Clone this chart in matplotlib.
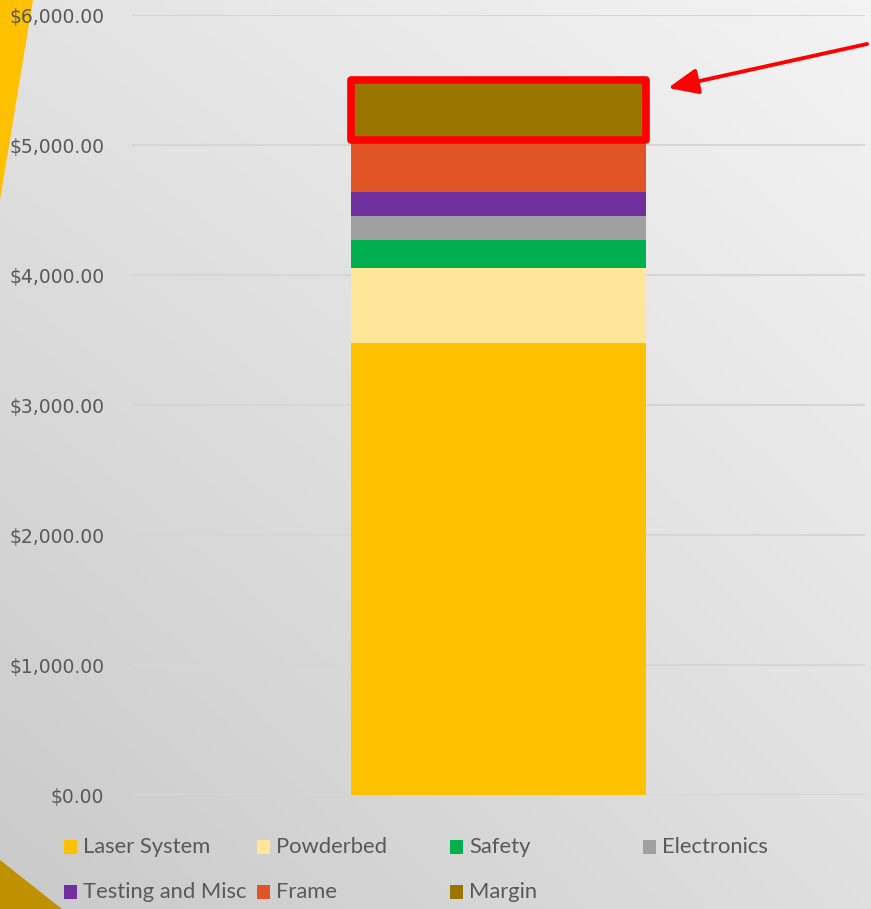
import numpy as np
import matplotlib
matplotlib.use("Agg")
import matplotlib.pyplot as plt
from matplotlib.patches import Polygon, Rectangle, FancyArrowPatch
from matplotlib.ticker import FuncFormatter

# Cost breakdown (USD), stacked bottom to top
categories = ["Laser System", "Powderbed", "Safety", "Electronics",
              "Testing and Misc", "Frame", "Margin"]
costs = [3478, 574, 216, 184, 185, 400, 461]
colors = ["#FFC000", "#FFE699", "#00B050", "#A0A0A0",
          "#7030A0", "#E05426", "#9A7600"]
y_ticks = [0, 1000, 2000, 3000, 4000, 5000, 6000]

W, H = 871, 909
fig = plt.figure(figsize=(W / 100, H / 100), dpi=100)

# Soft diagonal gray background
bg = fig.add_axes([0, 0, 1, 1], zorder=-10)
u = np.linspace(0, 1, 300)
X, Y = np.meshgrid(u, u)
tl, tr, bl, br = 0.890, 0.955, 0.790, 0.875
G = tl * (1 - X) * (1 - Y) + tr * X * (1 - Y) + bl * (1 - X) * Y + br * X * Y
bg.imshow(np.dstack([G, G, G]), extent=[0, 1, 0, 1], aspect="auto", origin="upper")
bg.set_xlim(0, 1)
bg.set_ylim(0, 1)
bg.axis("off")

# Decorative corner accents
bg.add_patch(Polygon([[0, 1], [33 / W, 1], [0, 1 - 200 / H]], closed=True,
                     color="#FFC000", lw=0))
bg.add_patch(Polygon([[0, 49 / H], [0, 0], [62 / W, 0]], closed=True,
                     color="#BF9000", lw=0))

ax = fig.add_axes([132 / W, (H - 795) / H, 733 / W, 780 / H])
ax.patch.set_alpha(0)

bottom = 0
bar_w = 0.402
for cat, val, col in zip(categories, costs, colors):
    ax.bar(0, val, width=bar_w, bottom=bottom, color=col, label=cat, zorder=3)
    bottom += val

ax.set_xlim(-0.5, 0.5)
ax.set_ylim(0, 6000)
ax.set_yticks(y_ticks)
ax.yaxis.set_major_formatter(FuncFormatter(lambda v, p: f"${v:,.2f}"))
ax.tick_params(axis="y", length=0, pad=20, labelsize=13.5, labelcolor="#595959",
               labelfontfamily="DejaVu Sans")
ax.set_xticks([])
for s in ax.spines.values():
    s.set_visible(False)
ax.grid(axis="y", color="#d6d6d6", lw=1.5, zorder=0)

# Highlight the margin segment
m_bottom = sum(costs[:-1])
ax.add_patch(Rectangle((-bar_w / 2, m_bottom), bar_w, costs[-1], fill=False,
                       ec="#FF0000", lw=5.5, joinstyle="round", zorder=5,
                       clip_on=False))

# Pointer arrow toward the highlighted segment
arrow = FancyArrowPatch((867 / W, 1 - 44 / H), (668 / W, 1 - 88 / H),
                        transform=fig.transFigure,
                        arrowstyle="-|>,head_length=14,head_width=6",
                        color="#FF0000", lw=2.8, mutation_scale=1.3,
                        shrinkA=0, shrinkB=0, zorder=20)
fig.patches.append(arrow)

# Legend laid out in a 4-column grid
for i, (cat, col) in enumerate(zip(categories, colors)):
    c, r = i % 4, i // 4
    x0 = 64 + c * 193
    yc = 847 + r * 45
    fig.patches.append(Rectangle((x0 / W, 1 - (yc + 7) / H), 13 / W, 14 / H,
                                 transform=fig.transFigure, color=col, lw=0))
    fig.text((x0 + 19) / W, 1 - yc / H, cat, fontsize=15.8, color="#595959",
             family="Lato", va="center", ha="left")

fig.savefig("out.png", dpi=100)
